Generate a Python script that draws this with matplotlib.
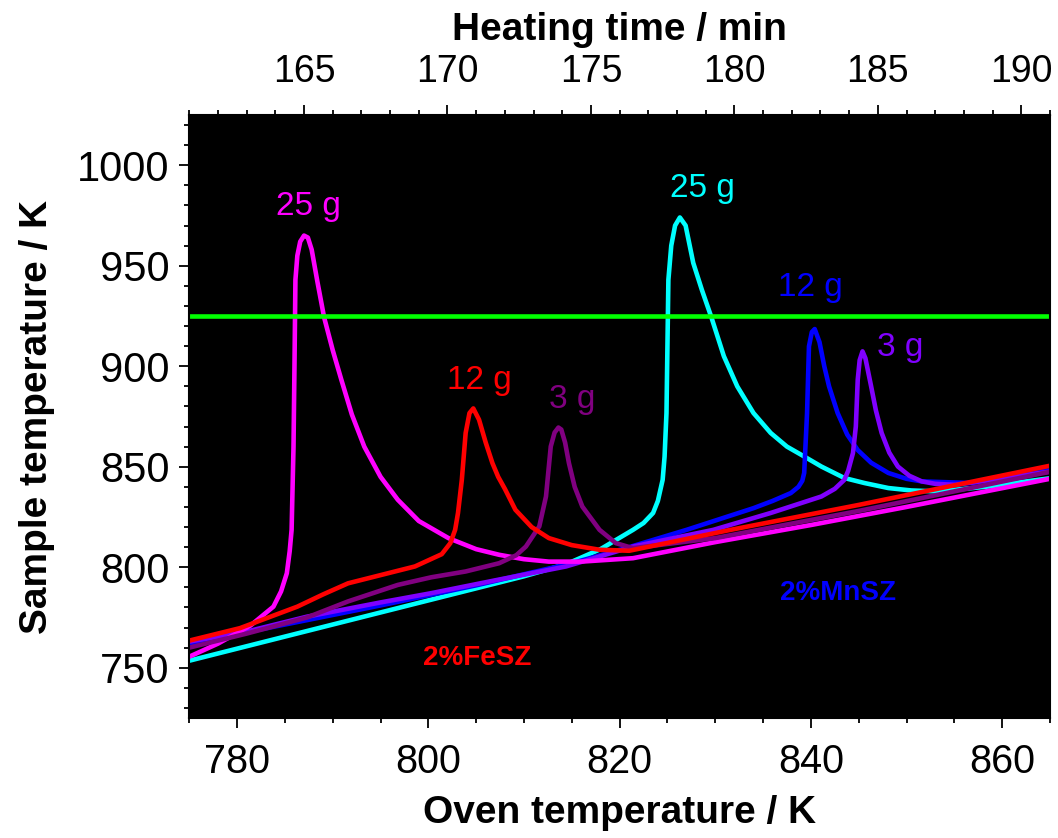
import numpy as np
import matplotlib
matplotlib.use("Agg")
import matplotlib.pyplot as plt
from matplotlib.ticker import MultipleLocator

plt.rcParams['font.family'] = ['Liberation Sans', 'DejaVu Sans']

# 2%FeSZ, 25 g
fe25_T = [775, 778, 781.4, 783.8, 784.6, 785.2, 785.5, 785.7, 785.9, 786.0, 786.1, 786.3,
          786.6, 787.0, 787.4, 787.8, 788.4, 789.1, 790.0, 790.9, 792.0, 793.3, 795.0,
          796.8, 799.0, 802.1, 805.0, 807.4, 810.0, 812.6, 816.0, 821.4, 830, 840, 850, 865]
fe25_S = [755.5, 762, 771, 780.4, 788, 797, 808, 818.6, 860, 900, 943, 955,
          962, 965, 964, 958, 942, 924.3, 908, 893.3, 876, 860, 845,
          833.6, 823, 814.5, 809, 806.2, 804, 802.8, 802.8, 804.5, 812.5, 821, 830, 844]

# 2%FeSZ, 12 g
fe12_T = [775, 780.3, 786.3, 789, 791.6, 795.1, 798.6, 801.4, 802.3, 802.8, 803.1, 803.5,
          803.9, 804.3, 804.7, 805.3, 806.0, 806.7, 807.3, 808.0, 809.1, 810.8, 812.6,
          815.0, 817.9, 821.0, 831.6, 845, 865]
fe12_S = [763.5, 769.7, 780.4, 786.5, 792, 796.2, 800.4, 806.5, 812, 818.6, 827, 843.5,
          866.8, 876.7, 879, 873.4, 862, 851.8, 845, 839, 828.6, 820, 814.5,
          811, 808.7, 808.2, 818.6, 831, 850.5]

# 2%FeSZ, 3 g
fe3_T = [775, 781, 787.3, 791.6, 796.8, 800.3, 803.9, 807.4, 809.2, 810.2, 811.6, 812.3,
         812.8, 813.2, 813.6, 813.9, 814.3, 814.7, 815.3, 816.1, 817.9, 819.6, 821.4, 830,
         845, 865]
fe3_S = [760, 767, 775, 783, 791.2, 795, 797.9, 802, 806, 810.3, 820.3, 835.2,
         860.1, 867, 869.5, 868.5, 862, 851.8, 840, 830.2, 818.6, 812, 809.5, 814.5,
         828, 847.5]

# 2%MnSZ, 25 g
mn25_T = [775, 780, 785, 790, 795, 800, 805, 810, 814.4, 818, 821.4, 822.5, 823.5, 824.0,
          824.5, 824.7, 824.9, 825.1, 825.4, 825.8, 826.3, 826.9, 827.7, 828.6, 829.6,
          830.9, 832.3, 834.0, 835.8, 837.5, 839.3, 841.1, 843.5, 845.6, 848.1, 850.5,
          853.3, 858.6, 865.2]
mn25_S = [753.5, 759.5, 765.5, 771.5, 777.5, 783.5, 789.5, 795.5, 801.5, 809, 818.6, 822,
          827, 833, 843.5, 855, 876.7, 943, 960, 970, 974, 970, 951.4, 938, 924.3,
          905, 890, 876.7, 866.8, 860, 855.1, 850.1, 844.4, 841.9, 839.4, 838.2,
          837.7, 840.2, 844.4]

# 2%MnSZ, 12 g
mn12_T = [775, 785, 795, 805, 815, 821, 827, 834, 836.0, 837.9, 838.7, 839.1, 839.3,
          839.6, 839.8, 840.1, 840.4, 840.9, 841.4, 841.9, 842.8, 843.8, 844.9, 846.3,
          848.1, 850.0, 851.6, 856.8, 865.2]
mn12_S = [762, 771.5, 781, 791, 802, 810, 818.6, 829.4, 833, 836.9, 840, 843, 846.9,
          876.7, 909.9, 917, 918.5, 912, 900, 890, 876.7, 866, 858.3, 852,
          846.9, 844, 842.7, 841.9, 848.5]

# 2%MnSZ, 3 g
mn3_T = [775, 781, 787.3, 795, 800.3, 807, 814.4, 821.4, 829.8, 835.8, 841.1, 842.5,
         843.5, 843.9, 844.4, 844.7, 844.9, 845.1, 845.4, 845.7, 846.0, 846.3, 846.8,
         847.4, 848.2, 849.1, 850.3, 851.6, 853.0, 855.1, 860.3, 865.2]
mn3_S = [763, 768, 775.4, 782.5, 787.1, 793.5, 800.4, 810.3, 818.6, 827, 835.2, 839,
         843.5, 848, 856.8, 870, 893.3, 903, 907.4, 904, 897, 890, 878,
         866.8, 857, 850.1, 845.5, 842.7, 841.5, 841, 844.4, 847.7]

limit_T = 925  # green reference line

fig = plt.figure(figsize=(10.58, 8.38), dpi=100)
ax = fig.add_axes([0.1789, 0.1432, 0.8135, 0.7196])
ax.set_facecolor('black')

lw = 3.3
ax.plot(mn25_T, mn25_S, color='#00FFFF', lw=lw, solid_joinstyle='round')
ax.plot(mn12_T, mn12_S, color='#0000FF', lw=lw, solid_joinstyle='round')
ax.plot(mn3_T, mn3_S, color='#8000FF', lw=lw, solid_joinstyle='round')
ax.plot(fe25_T, fe25_S, color='#FF00FF', lw=lw, solid_joinstyle='round')
ax.plot(fe3_T, fe3_S, color='#800080', lw=lw, solid_joinstyle='round')
ax.plot(fe12_T, fe12_S, color='#FF0000', lw=lw, solid_joinstyle='round')
ax.axhline(limit_T, color='#00FF00', lw=lw)

ax.set_xlim(775, 865)
ax.set_ylim(725, 1025)
ax.xaxis.set_major_locator(MultipleLocator(20))
ax.xaxis.set_minor_locator(MultipleLocator(5))
ax.yaxis.set_major_locator(MultipleLocator(50))
ax.yaxis.set_minor_locator(MultipleLocator(10))
ax.tick_params(which='major', direction='out', length=7.2, width=1.3, labelsize=28.5, pad=11)
ax.tick_params(which='minor', direction='out', length=3.6, width=1.3)
ax.tick_params(axis='y', which='major', labelsize=30, pad=7)

ax.set_xlabel('Oven temperature / K', fontsize=28, fontweight='bold', labelpad=10)
ax.set_ylabel('Sample temperature / K', fontsize=28, fontweight='bold', labelpad=16)

# heating time axis, 3 K/min, 165 min at 787 K
top = ax.secondary_xaxis('top', functions=(lambda T: 165 + (T - 787) / 3.0,
                                           lambda t: 787 + 3.0 * (t - 165)))
top.xaxis.set_major_locator(MultipleLocator(5))
top.xaxis.set_minor_locator(MultipleLocator(1))
top.tick_params(which='major', direction='out', length=7.2, width=1.3, labelsize=27, pad=11)
top.tick_params(which='minor', direction='out', length=3.6, width=1.3)
top.set_xlabel('Heating time / min', fontsize=28, fontweight='bold', labelpad=10)

for s in ax.spines.values():
    s.set_linewidth(1.5)

# annotations
ax.text(787.45, 975, '25 g', color='#FF00FF', fontsize=24, ha='center', va='baseline')
ax.text(805.3, 888.7, '12 g', color='#FF0000', fontsize=24, ha='center', va='baseline')
ax.text(815.0, 879.2, '3 g', color='#800080', fontsize=24, ha='center', va='baseline')
ax.text(828.7, 984.3, '25 g', color='#00FFFF', fontsize=24, ha='center', va='baseline')
ax.text(839.9, 934.8, '12 g', color='#0000FF', fontsize=24, ha='center', va='baseline')
ax.text(849.3, 905.3, '3 g', color='#8000FF', fontsize=24, ha='center', va='baseline')
ax.text(805.1, 751.4, '2%FeSZ', color='#FF0000', fontsize=20, fontweight='bold',
        ha='center', va='baseline')
ax.text(842.8, 783.8, '2%MnSZ', color='#0000FF', fontsize=20, fontweight='bold',
        ha='center', va='baseline')

fig.savefig('out.png', dpi=100)
